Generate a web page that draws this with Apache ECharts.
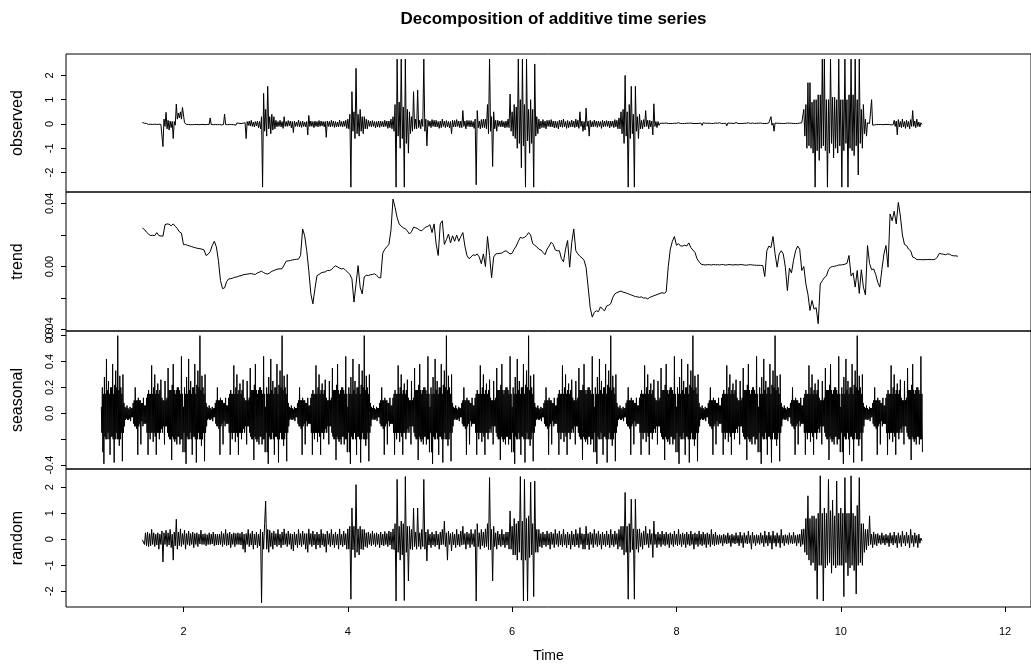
<!DOCTYPE html>
<html><head><meta charset="utf-8">
<script src="https://cdn.jsdelivr.net/npm/echarts@6/dist/echarts.min.js"></script>
<style>html,body{margin:0;padding:0;background:#fff}#c{width:1031px;height:670px}</style>
</head><body><div id="c"></div>
<script>
const chartTitle = 'Decomposition of additive time series';
const panelNames = ['observed', 'trend', 'seasonal', 'random'];
const xLabel = 'Time';
const xTicks = [2, 4, 6, 8, 10, 12];
const observedTicks = [-2, -1, 0, 1, 2];
const trendTicks = [-0.04, -0.02, 0, 0.02, 0.04];
const trendLabels = [-0.04, 0, 0.04];
const seasonalTicks = [-0.4, -0.2, 0, 0.2, 0.4, 0.6];
const seasonalLabels = [-0.4, 0, 0.2, 0.4, 0.6];
const randomTicks = [-2, -1, 0, 1, 2];

// time bases: observed/random sampled 80 per unit, trend 40 per unit, seasonal figure 160 per unit
const noiseStart = 1.5;
const noiseStep = 1 / 80;
const trendStart = 1.5;
const trendStep = 1 / 40;
const seasonalStart = 1.0;
const seasonalStep = 1 / 160;
const seasonalCycles = 10;

const observed = [
0.06,0.1,0.03,0.08,0.02,0.05,-0.02,0.04,-0.01,0.03,-0.02,0.04,-0.01,0.03,-0.02,0.02,-0.01,0.03,-0.02,0.02,
-0.93,0.2,-0.1,0.48,-0.2,0.15,-0.25,0.12,-0.15,0.1,-0.6,0.1,-0.05,0.82,0.2,0.45,0.25,0.5,0.2,0.68,
0.6,0.05,0.04,-0.02,0.03,-0.02,0.04,-0.03,0.02,-0.03,0.03,-0.02,0.04,-0.02,0.02,-0.03,0.02,-0.02,0.03,-0.02,
0.02,-0.03,0.04,-0.02,0.03,-0.02,0.25,-0.02,0.04,-0.03,0.05,-0.02,0.02,-0.03,0.03,-0.02,0.02,-0.04,0.03,-0.02,
0.41,-0.02,0.03,-0.03,0.04,-0.02,0.03,-0.02,0.02,-0.03,0.03,-0.05,0.04,-0.02,0.03,-0.03,0.02,-0.04,0.03,-0.02,
0.05,-0.6,0.1,-0.06,0.12,-0.08,0.15,-0.1,0.08,-0.12,0.1,-0.08,0.12,-0.15,0.1,-0.2,0.3,-2.6,1.26,-0.3,
0.6,-0.5,1.55,-0.2,0.3,-0.4,0.4,-0.25,0.3,-0.2,0.15,-0.12,0.1,-0.1,0.15,-0.12,0.1,-0.18,0.3,-0.1,
0.1,-0.1,0.14,-0.08,0.12,-0.16,0.1,-0.35,0.12,-0.1,0.08,-0.1,0.16,-0.12,0.1,-0.14,0.12,-0.1,0.08,-0.12,
0.1,-0.45,0.35,-0.1,0.12,-0.1,0.1,-0.15,0.12,-0.1,0.1,-0.12,0.14,-0.1,0.12,-0.08,0.1,-0.12,0.1,-0.55,
0.12,-0.1,0.1,-0.12,0.15,-0.1,0.12,-0.14,0.1,-0.12,0.08,-0.12,0.16,-0.1,0.1,-0.12,0.12,-0.1,0.15,-0.18,
0.2,-0.2,0.4,-2.6,1.33,-0.3,0.5,-0.6,2.29,-0.4,0.4,-0.5,0.6,-0.3,0.3,-0.4,0.3,-0.2,0.2,-0.2,
0.15,-0.1,0.12,-0.12,0.14,-0.1,0.1,-0.16,0.1,-0.12,0.12,-0.14,0.12,-0.1,0.1,-0.12,0.15,-0.1,0.12,-0.18,
0.12,-0.15,0.2,-0.2,0.3,-0.3,0.8,-2.6,2.67,-0.5,0.9,-1.0,2.67,-0.6,0.7,-2.6,2.67,-0.8,0.6,-1.2,
0.5,-0.4,0.3,-0.3,1.33,-0.2,0.2,-0.2,1.4,-0.15,0.15,-0.2,0.2,-0.1,2.67,-0.3,0.2,-0.9,0.15,-0.1,
0.12,-0.15,0.18,-0.1,0.15,-0.12,0.15,-0.12,0.1,-0.18,0.12,-0.15,0.2,-0.1,0.12,-0.15,0.14,-0.12,0.1,-0.16,
0.1,-0.4,0.15,-0.12,0.14,-0.12,0.18,-0.1,0.12,-0.15,0.12,-0.15,0.55,-0.1,0.12,-0.2,0.15,-0.1,0.14,-0.12,
0.14,-0.12,0.1,-0.18,0.2,-2.5,0.55,-0.15,0.12,-0.2,0.18,-0.15,0.2,-0.15,0.2,-0.2,0.8,-0.4,2.67,-0.3,
0.3,-1.75,0.5,-0.2,0.15,-0.3,0.15,-0.1,0.12,-0.12,0.14,-0.12,0.1,-0.16,0.12,-0.14,0.2,-0.15,1.23,-0.3,
0.5,-0.5,0.8,-0.6,0.7,-1.0,2.67,-0.8,1.0,-1.8,2.67,-0.9,0.8,-2.6,2.67,-0.7,0.6,-1.2,1.0,-0.8,
0.6,-2.6,2.47,-0.5,0.3,-0.4,0.2,-0.2,0.12,-0.15,0.18,-0.15,0.12,-0.2,0.15,-0.1,0.15,-0.12,0.18,-0.12,
0.12,-0.16,0.12,-0.15,0.1,-0.2,0.15,-0.12,0.16,-0.14,0.2,-0.12,0.1,-0.18,0.14,-0.15,0.1,-0.12,0.16,-0.12,
0.12,-0.15,0.2,-0.12,0.15,-0.18,0.5,-0.1,0.12,-0.3,0.1,-0.25,0.65,-0.1,0.12,-0.5,0.15,-0.12,0.1,-0.12,
0.16,-0.1,0.12,-0.14,0.12,-0.1,0.1,-0.18,0.15,-0.12,0.12,-0.1,0.14,-0.1,0.12,-0.16,0.12,-0.1,0.12,-0.15,
0.18,-0.12,0.15,-0.2,0.25,-0.2,0.5,-0.4,0.6,-0.8,2.0,-0.5,0.5,-2.6,0.8,-0.6,1.55,-0.4,0.4,-2.6,
1.55,-0.3,0.3,-0.6,0.4,-0.2,0.15,-0.2,0.18,-0.12,0.55,-0.1,0.15,-0.2,0.15,-0.12,0.12,-0.45,0.83,-0.1,
0.1,-0.15,0.1,-0.06,0.03,-0.04,0.03,-0.02,0.03,-0.02,0.04,-0.02,0.02,-0.03,0.02,-0.03,0.02,-0.04,0.03,-0.01,
0.03,-0.02,0.05,-0.02,0.02,-0.03,0.02,-0.03,0.02,-0.05,0.03,-0.02,0.03,-0.02,0.04,-0.02,0.02,-0.03,0.02,-0.03,
0.02,-0.04,0.03,-0.02,0.03,-0.06,0.05,-0.02,0.03,-0.02,0.03,-0.02,0.03,-0.04,0.02,-0.02,0.02,-0.03,0.04,-0.02,
0.03,-0.02,0.05,-0.02,0.02,-0.03,0.02,-0.03,0.03,-0.08,0.04,-0.02,0.03,-0.02,0.03,-0.02,0.02,-0.04,0.06,-0.02,
0.02,-0.03,0.02,-0.03,0.02,-0.04,0.03,-0.02,0.03,-0.02,0.05,-0.02,0.02,-0.03,0.04,-0.03,0.02,-0.05,0.03,-0.02,
0.03,-0.02,0.04,-0.02,0.02,-0.03,0.02,-0.03,0.02,-0.04,0.05,-0.03,0.3,-0.05,0.04,-0.3,0.04,-0.02,0.03,-0.02,
0.03,-0.02,0.02,-0.04,0.02,-0.03,0.02,-0.03,0.04,-0.02,0.03,-0.02,0.03,-0.02,0.02,-0.05,0.02,-0.03,0.02,-0.03,
0.04,-0.02,0.05,-0.02,0.6,-0.5,0.8,-1.0,1.7,-0.9,1.7,-1.0,0.9,-1.2,1.0,-2.6,1.0,-1.1,1.2,-1.5,
1.2,-1.0,2.67,-0.9,2.67,-1.1,1.0,-2.6,1.0,-1.2,2.67,-0.8,1.1,-1.4,1.1,-1.0,1.0,-1.2,2.67,-0.9,
1.0,-2.6,1.0,-1.1,2.67,-0.8,1.0,-2.6,1.2,-1.0,2.67,-1.1,1.2,-1.3,2.67,-0.9,1.0,-2.1,2.67,-0.8,
0.6,-1.0,0.8,-0.4,0.2,-0.5,0.05,-0.03,0.02,-0.03,1.0,-0.05,0.03,-0.04,0.03,-0.02,0.03,-0.02,0.04,-0.02,
0.02,-0.03,0.05,-0.02,0.03,-0.02,0.03,-0.02,0.03,-0.04,0.02,-0.03,0.15,-0.1,0.12,-0.45,0.18,-0.12,0.1,-0.15,
0.2,-0.12,0.1,-0.18,0.15,-0.12,0.1,-0.2,0.18,-0.1,0.55,-0.1,0.12,-0.15,0.2,-0.1,0.08,-0.12,0.05,-0.02
];

const trend = [
0.0244,0.0235,0.0217,0.0205,0.0196,0.0198,0.0196,0.0215,0.0196,0.0194,
0.0192,0.0265,0.0270,0.0268,0.0258,0.0270,0.0255,0.0240,0.0220,0.0212,
0.0139,0.0139,0.0135,0.0130,0.0126,0.0122,0.0118,0.0115,0.0113,0.0110,
0.0105,0.0070,0.0078,0.0095,0.0133,0.0160,0.0125,0.0038,-0.0088,-0.0140,
-0.0135,-0.0095,-0.0078,-0.0077,-0.0073,-0.0068,-0.0066,-0.0060,-0.0058,-0.0052,
-0.0050,-0.0048,-0.0046,-0.0044,-0.0048,-0.0050,-0.0040,-0.0035,-0.0030,-0.0038,
-0.0045,-0.0047,-0.0040,-0.0030,-0.0025,-0.0020,-0.0015,-0.0015,-0.0013,0.0010,
0.0034,0.0036,0.0038,0.0042,0.0044,0.0046,0.0047,0.0070,0.0238,0.0195,
0.0100,-0.0025,-0.0173,-0.0236,-0.0140,-0.0057,-0.0050,-0.0040,-0.0036,-0.0034,
-0.0025,-0.0025,-0.0020,-0.0005,0.0004,-0.0002,-0.0010,-0.0015,-0.0012,-0.0025,
-0.0036,-0.0050,-0.0078,-0.0225,-0.0110,0.0006,-0.0130,-0.0173,-0.0065,-0.0055,
-0.0057,-0.0052,-0.0050,-0.0046,-0.0055,-0.0070,-0.0072,0.0084,0.0110,0.0125,
0.0140,0.0230,0.0427,0.0375,0.0310,0.0270,0.0255,0.0245,0.0240,0.0225,
0.0206,0.0220,0.0250,0.0245,0.0240,0.0230,0.0227,0.0240,0.0250,0.0255,
0.0265,0.0215,0.0270,0.0143,0.0070,0.0270,0.0290,0.0140,0.0170,0.0206,
0.0150,0.0195,0.0160,0.0200,0.0160,0.0190,0.0215,0.0130,0.0070,0.0050,
0.0060,0.0075,0.0070,0.0080,0.0060,0.0018,0.0080,0.0000,0.0190,0.0070,
-0.0072,0.0060,0.0080,0.0082,0.0084,0.0085,0.0095,0.0100,0.0090,0.0080,
0.0085,0.0110,0.0130,0.0160,0.0185,0.0180,0.0185,0.0196,0.0215,0.0200,
0.0145,0.0135,0.0125,0.0110,0.0105,0.0090,0.0075,0.0110,0.0130,0.0154,
0.0140,0.0105,0.0100,0.0100,0.0050,0.0030,0.0110,0.0165,-0.0004,0.0150,
0.0238,0.0100,0.0080,0.0065,0.0055,0.0040,-0.0005,-0.0130,-0.0260,-0.0320,
-0.0290,-0.0280,-0.0285,-0.0255,-0.0270,-0.0280,-0.0250,-0.0245,-0.0235,-0.0195,
-0.0173,-0.0165,-0.0160,-0.0155,-0.0162,-0.0165,-0.0170,-0.0175,-0.0180,-0.0185,
-0.0190,-0.0192,-0.0195,-0.0192,-0.0200,-0.0198,-0.0205,-0.0195,-0.0190,-0.0185,
-0.0180,-0.0175,-0.0170,-0.0165,-0.0170,-0.0160,0.0000,0.0110,0.0160,0.0190,
0.0135,0.0145,0.0130,0.0130,0.0135,0.0130,0.0150,0.0120,0.0105,0.0090,
0.0050,0.0030,0.0015,0.0012,0.0010,0.0012,0.0012,0.0010,0.0013,0.0011,
0.0012,0.0010,0.0013,0.0012,0.0009,0.0012,0.0013,0.0010,0.0011,0.0012,
0.0010,0.0013,0.0012,0.0010,0.0008,0.0011,0.0012,0.0010,0.0009,0.0008,
0.0008,0.0007,0.0007,-0.0063,0.0100,0.0130,0.0120,0.0190,0.0080,-0.0004,
0.0080,0.0100,0.0080,-0.0004,-0.0152,-0.0010,-0.0040,0.0040,0.0100,0.0130,
0.0110,-0.0025,0.0000,-0.0110,-0.0175,-0.0278,-0.0215,-0.0270,-0.0260,-0.0362,
-0.0110,-0.0090,-0.0070,-0.0060,-0.0020,-0.0004,0.0000,0.0002,0.0005,0.0010,
0.0010,0.0012,0.0015,0.0020,0.0070,-0.0060,-0.0040,-0.0130,-0.0025,-0.0170,
-0.0020,-0.0130,-0.0180,0.0133,0.0020,-0.0020,-0.0015,-0.0050,-0.0100,-0.0130,
-0.0020,0.0080,0.0133,-0.0004,0.0333,0.0290,0.0350,0.0270,0.0406,0.0320,
0.0200,0.0140,0.0133,0.0110,0.0100,0.0060,0.0055,0.0044,0.0044,0.0044,
0.0043,0.0044,0.0044,0.0045,0.0044,0.0044,0.0046,0.0060,0.0084,0.0080,
0.0078,0.0075,0.0080,0.0078,0.0070,0.0068,0.0068,0.0065
];

const seasonalCycle = [
0.05,-0.15,0.2,-0.3,0.15,-0.39,0.28,-0.18,0.15,-0.2,0.42,-0.2,0.18,-0.15,0.25,-0.2,0.15,-0.32,0.2,-0.18,
0.2,-0.18,0.38,-0.2,0.15,-0.38,0.22,-0.2,0.33,-0.15,0.2,-0.2,0.6,-0.2,0.18,-0.25,0.29,-0.2,0.2,-0.15,
0.15,-0.37,0.3,-0.15,0.08,-0.1,0.05,-0.05,0.04,-0.04,0.06,-0.05,0.04,-0.05,0.03,-0.04,0.05,-0.06,0.04,-0.03,
0.04,-0.03,0.08,-0.08,0.1,-0.1,0.2,-0.1,0.1,-0.12,0.1,-0.32,0.12,-0.1,0.1,-0.08,0.1,-0.24,0.08,-0.06,
0.08,-0.1,0.12,-0.08,0.06,-0.08,0.06,-0.08,0.12,-0.15,0.15,-0.32,0.18,-0.15,0.15,-0.2,0.15,-0.15,0.37,-0.15,
0.15,-0.22,0.2,-0.15,0.3,-0.18,0.15,-0.32,0.18,-0.15,0.23,-0.15,0.15,-0.2,0.18,-0.15,0.26,-0.12,0.12,-0.15,
0.1,-0.1,0.1,-0.24,0.25,-0.1,0.1,-0.1,0.12,-0.15,0.35,-0.18,0.18,-0.2,0.18,-0.2,0.18,-0.36,0.22,-0.18,
0.38,-0.2,0.18,-0.22,0.15,-0.2,0.18,-0.24,0.2,-0.18,0.2,-0.18,0.18,-0.24,0.15,-0.2,0.44,-0.2,0.15,-0.3
];

const random = [
-0.02,0.05,-0.2,0.25,-0.25,0.28,-0.28,0.22,-0.25,0.38,-0.2,0.25,-0.28,0.2,-0.22,0.25,-0.38,0.2,-0.2,0.32,
-0.87,0.25,-0.2,0.35,-0.28,0.25,-0.22,0.38,-0.32,0.2,-0.8,0.28,-0.25,0.77,-0.38,0.28,-0.25,0.4,-0.28,0.22,
-0.2,0.35,-0.38,0.22,-0.2,0.32,-0.25,0.22,-0.2,0.28,-0.32,0.22,-0.2,0.25,-0.28,0.2,-0.18,0.35,-0.2,0.2,
-0.2,0.22,-0.25,0.18,-0.2,0.25,-0.2,0.2,-0.18,0.28,-0.25,0.2,-0.22,0.2,-0.22,0.2,-0.2,0.3,-0.28,0.22,
-0.2,0.38,-0.25,0.22,-0.22,0.28,-0.32,0.2,-0.2,0.25,-0.28,0.22,-0.2,0.25,-0.2,0.22,-0.22,0.28,-0.38,0.2,
-0.5,0.22,-0.2,0.38,-0.28,0.22,-0.22,0.32,-0.38,0.2,-0.22,0.28,-0.32,0.2,-0.25,0.38,-2.44,0.28,-0.38,0.6,
1.47,-0.38,0.38,-0.5,0.35,-0.28,0.25,-0.38,0.32,-0.22,0.22,-0.28,0.38,-0.22,0.2,-0.32,0.28,-0.22,0.4,-0.2,
0.22,-0.28,0.32,-0.2,0.22,-0.38,0.2,-0.45,0.28,-0.22,0.2,-0.32,0.38,-0.22,0.22,-0.28,0.32,-0.2,0.22,-0.38,
0.22,-0.5,0.4,-0.2,0.22,-0.28,0.32,-0.22,0.2,-0.38,0.28,-0.22,0.2,-0.32,0.38,-0.22,0.22,-0.28,0.2,-0.5,
0.32,-0.2,0.22,-0.28,0.38,-0.22,0.2,-0.32,0.28,-0.22,0.2,-0.38,0.4,-0.22,0.2,-0.28,0.32,-0.22,0.22,-0.38,
0.4,-0.38,0.5,-2.3,1.2,-0.4,0.5,-0.7,2.1,-0.5,0.4,-0.6,0.5,-0.38,0.38,-0.4,0.38,-0.28,0.25,-0.32,
0.28,-0.2,0.22,-0.25,0.32,-0.2,0.22,-0.28,0.25,-0.2,0.2,-0.32,0.28,-0.22,0.2,-0.25,0.3,-0.2,0.22,-0.28,
0.32,-0.22,0.28,-0.38,0.4,-0.4,0.6,-2.37,2.3,-0.5,0.5,-0.8,0.7,-0.6,0.6,-2.35,2.41,-0.5,0.5,-1.6,
0.5,-0.38,0.38,-0.4,1.2,-0.28,0.28,-0.38,1.2,-0.28,0.25,-0.38,0.38,-0.28,2.3,-0.38,0.28,-0.83,0.38,-0.22,
0.2,-0.32,0.28,-0.22,0.2,-0.28,0.32,-0.22,0.2,-0.38,0.28,-0.22,0.38,-0.2,0.7,-0.28,0.25,-0.8,0.32,-0.2,
0.22,-0.45,0.28,-0.22,0.2,-0.32,0.38,-0.22,0.2,-0.28,0.32,-0.22,0.5,-0.2,0.22,-0.38,0.28,-0.2,0.22,-0.32,
0.38,-0.2,0.22,-0.28,0.38,-2.37,0.6,-0.28,0.25,-0.38,0.38,-0.25,0.28,-0.32,0.4,-0.28,0.6,-0.4,2.37,-0.4,
0.38,-1.6,0.5,-0.28,0.25,-0.38,0.32,-0.22,0.2,-0.28,0.38,-0.22,0.2,-0.32,0.28,-0.22,0.28,-0.38,1.09,-0.38,
0.5,-0.6,0.8,-0.6,0.6,-0.8,0.7,-0.5,2.41,-0.8,0.7,-2.37,2.3,-0.8,0.8,-2.37,0.9,-0.7,2.2,-0.6,
0.6,-2.2,2.24,-0.5,0.38,-0.5,0.38,-0.28,0.22,-0.32,0.28,-0.22,0.2,-0.28,0.32,-0.22,0.22,-0.38,0.28,-0.2,
0.22,-0.32,0.38,-0.2,0.22,-0.28,0.32,-0.22,0.2,-0.28,0.38,-0.22,0.2,-0.32,0.28,-0.22,0.2,-0.38,0.32,-0.22,
0.2,-0.28,0.38,-0.22,0.22,-0.32,0.45,-0.2,0.22,-0.38,0.2,-0.38,0.5,-0.22,0.22,-0.4,0.28,-0.2,0.22,-0.32,
0.38,-0.2,0.22,-0.28,0.32,-0.22,0.2,-0.38,0.28,-0.22,0.2,-0.28,0.32,-0.22,0.2,-0.32,0.38,-0.22,0.2,-0.28,
0.32,-0.2,0.22,-0.38,0.38,-0.28,0.5,-0.4,0.5,-0.6,1.8,-0.5,0.5,-2.3,0.6,-0.5,1.54,-0.4,0.4,-2.3,
1.54,-0.38,0.38,-0.5,0.4,-0.28,0.25,-0.38,0.32,-0.22,0.5,-0.2,0.22,-0.32,0.38,-0.2,0.22,-0.7,0.7,-0.2,
0.2,-0.32,0.28,-0.2,0.2,-0.28,0.32,-0.2,0.2,-0.25,0.28,-0.2,0.2,-0.32,0.25,-0.2,0.2,-0.28,0.32,-0.2,
0.2,-0.25,0.38,-0.2,0.2,-0.28,0.25,-0.2,0.2,-0.32,0.28,-0.2,0.2,-0.25,0.32,-0.2,0.2,-0.38,0.25,-0.2,
0.2,-0.28,0.32,-0.2,0.2,-0.25,0.28,-0.2,0.2,-0.32,0.25,-0.2,0.2,-0.28,0.38,-0.2,0.2,-0.25,0.28,-0.2,
0.15,-0.2,0.18,-0.15,0.15,-0.25,0.2,-0.15,0.15,-0.18,0.25,-0.15,0.15,-0.28,0.2,-0.15,0.15,-0.18,0.25,-0.15,
0.15,-0.25,0.28,-0.15,0.15,-0.32,0.25,-0.15,0.15,-0.18,0.32,-0.15,0.15,-0.38,0.28,-0.15,0.15,-0.25,0.18,-0.15,
0.15,-0.2,0.25,-0.15,0.15,-0.28,0.32,-0.15,0.15,-0.25,0.28,-0.15,0.15,-0.38,0.32,-0.15,0.15,-0.28,0.25,-0.15,
0.15,-0.32,0.38,-0.15,0.15,-0.25,0.18,-0.15,0.15,-0.2,0.25,-0.15,0.15,-0.18,0.28,-0.15,0.15,-0.25,0.18,-0.15,
0.2,-0.28,0.38,-0.2,0.4,-0.5,0.8,-0.6,1.67,-0.8,0.8,-1.0,0.9,-0.9,0.9,-1.2,0.8,-2.3,1.0,-1.0,
2.44,-1.0,1.0,-2.37,1.2,-1.1,1.0,-1.0,2.3,-0.9,1.1,-1.3,1.5,-1.0,0.9,-1.1,2.24,-1.0,1.0,-1.0,
1.2,-1.0,1.0,-2.2,2.37,-0.9,1.0,-1.4,1.0,-1.1,2.44,-1.0,1.0,-1.2,0.9,-2.1,1.3,-1.0,2.37,-0.9,
0.6,-1.0,0.6,-0.5,0.38,-0.4,0.38,-0.25,0.9,-0.2,0.2,-0.32,0.28,-0.2,0.2,-0.25,0.22,-0.15,0.15,-0.2,
0.25,-0.15,0.15,-0.22,0.2,-0.15,0.15,-0.28,0.25,-0.15,0.15,-0.22,0.28,-0.15,0.15,-0.32,0.25,-0.15,0.15,-0.28,
0.32,-0.15,0.15,-0.25,0.28,-0.15,0.15,-0.32,0.38,-0.15,0.15,-0.28,0.25,-0.15,0.15,-0.32,0.2,-0.15,0.05,-0.05
];

// ---- build chart ----
const FONT = '"Liberation Sans", Arial, Helvetica, sans-serif';
const toPairs = (arr, start, step) => arr.map((v, i) => [start + i * step, v]);
const seasonalPairs = [];
for (let c = 0; c < seasonalCycles; c++) {
  seasonalCycle.forEach((v, j) => seasonalPairs.push([seasonalStart + c + j * seasonalStep, v]));
}
const panelData = [
  toPairs(observed, noiseStart, noiseStep),
  toPairs(trend, trendStart, trendStep),
  seasonalPairs,
  toPairs(random, noiseStart, noiseStep)
];
const yRanges = [[-2.80, 2.88], [-0.0408, 0.0472], [-0.43, 0.636], [-2.60, 2.70]];
const yTickVals = [observedTicks, trendTicks, seasonalTicks, randomTicks];
const yLabelVals = [observedTicks, trendLabels, seasonalLabels, randomTicks];
const yFmt = [v => String(v), v => v.toFixed(2), v => v.toFixed(1), v => String(v)];
const tops = [54, 192, 331, 469];
const heights = [138, 139, 138, 138];
const X_MIN = 0.57, X_MAX = 12.315;

const grids = [], xAxes = [], yAxes = [], series = [];
for (let k = 0; k < 4; k++) {
  grids.push({ left: 66, width: 969, top: tops[k], height: heights[k], show: true,
    borderColor: '#000', borderWidth: 1, backgroundColor: 'transparent' });
  const bottom = k === 3;
  xAxes.push({
    gridIndex: k, type: 'value', min: X_MIN, max: X_MAX, position: 'bottom',
    axisLine: { show: false, onZero: false }, splitLine: { show: false },
    axisTick: { show: bottom, length: 5, customValues: xTicks, lineStyle: { color: '#000' } },
    axisLabel: { show: bottom, customValues: xTicks, fontSize: 11, color: '#000', margin: 19, fontFamily: FONT },
    name: bottom ? xLabel : '', nameLocation: 'middle', nameGap: 42,
    nameTextStyle: { fontSize: 14, color: '#000', fontFamily: FONT }
  });
  yAxes.push({
    gridIndex: k, type: 'value', min: yRanges[k][0], max: yRanges[k][1], position: 'left',
    axisLine: { show: false, onZero: false }, splitLine: { show: false },
    axisTick: { show: true, length: 5, customValues: yTickVals[k], lineStyle: { color: '#000' } },
    axisLabel: { customValues: yLabelVals[k], rotate: 90, fontSize: 11, color: '#000', margin: 11,
      fontFamily: FONT, formatter: yFmt[k] },
    name: panelNames[k], nameLocation: 'middle', nameGap: 40, nameRotate: 90,
    nameTextStyle: { fontSize: 16, color: '#000', fontFamily: FONT }
  });
  series.push({
    type: 'line', xAxisIndex: k, yAxisIndex: k, data: panelData[k],
    symbol: 'none', showSymbol: false, silent: true, clip: true,
    lineStyle: { color: '#000', width: 1 }
  });
}

const chart = echarts.init(document.getElementById('c'), null, { renderer: 'canvas' });
chart.setOption({
  animation: false,
  backgroundColor: '#fff',
  title: { text: chartTitle, left: 548.5, textAlign: 'center', top: 6,
    textStyle: { fontSize: 17, fontWeight: 'bold', color: '#000', fontFamily: FONT } },
  grid: grids, xAxis: xAxes, yAxis: yAxes, series: series
});
</script>
</body></html>
